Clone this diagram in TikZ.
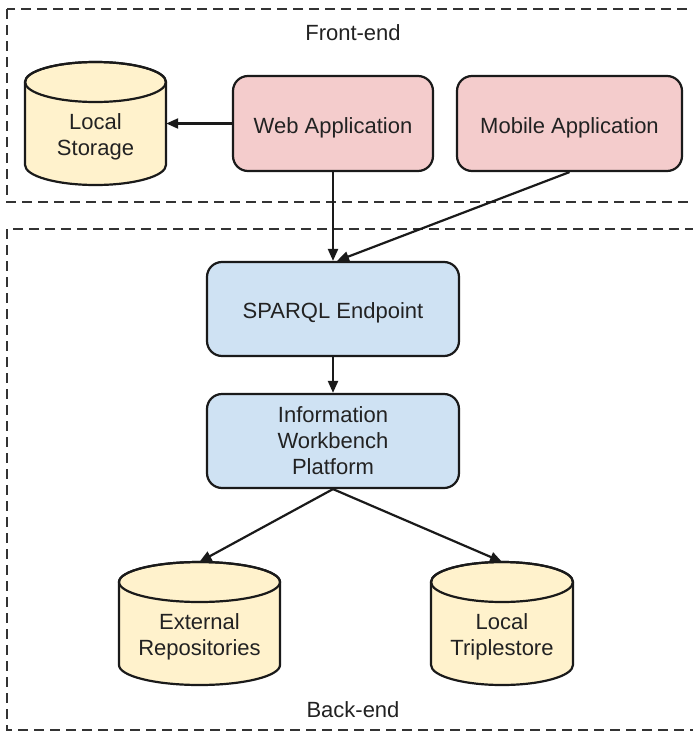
\documentclass[tikz,border=0pt]{standalone}
\usepackage{fontspec}
\setmainfont{Liberation Sans}
\usetikzlibrary{arrows.meta}
\definecolor{appfill}{HTML}{F4CCCC}
\definecolor{svcfill}{HTML}{CFE2F3}
\definecolor{dbfill}{HTML}{FFF2CC}
\definecolor{edgecol}{HTML}{1A1A1A}
\definecolor{zonecol}{HTML}{333333}
\definecolor{txtcol}{HTML}{222222}

% database cylinder: #1 name, #2 left, #3 top, #4 right, #5 bottom, #6 text
\newcommand\dbcyl[6]{%
  \pgfmathsetmacro\dbcx{(#2+#4)/2}%
  \pgfmathsetmacro\dbrx{(#4-#2)/2}%
  \pgfmathsetmacro\dbcy{-(#3+#5)/2}%
  \pgfmathsetmacro\dbw{#4-#2}%
  \pgfmathsetmacro\dbh{#5-#3}%
  \node[inner sep=0pt, minimum width=\dbw pt, minimum height=\dbh pt] (#1) at (\dbcx,\dbcy) {};
  \path[dbline] (#2,-#3-20) -- (#2,-#5+20)
    arc[start angle=180, end angle=360, x radius=\dbrx, y radius=20]
    -- (#4,-#3-20)
    arc[start angle=0, end angle=180, x radius=\dbrx, y radius=20] -- cycle;
  \draw[dbline, fill=none] (\dbcx,-#3-20) ellipse[x radius=\dbrx, y radius=20];
  \node[align=center] (#1-text) at (\dbcx,\dbcy-13) {#6};
}

\begin{document}
\begin{tikzpicture}[x=1pt, y=1pt,
  every node/.style={font=\fontsize{22}{26}\selectfont, text=txtcol},
  oneline/.style={text height=19.5pt, text depth=0pt},
  appbox/.style={draw=edgecol, line width=2.2pt, rounded corners=15pt, fill=appfill,
    minimum height=95pt, align=center, oneline},
  svcbox/.style={draw=edgecol, line width=2.2pt, rounded corners=15pt, fill=svcfill,
    minimum width=252pt, minimum height=94pt, align=center},
  dbline/.style={draw=edgecol, line width=2.2pt, fill=dbfill},
  zonebox/.style={draw=zonecol, line width=2.6pt, dash pattern=on 10pt off 6pt},
  link/.style={draw=edgecol, line width=2.2pt, -{Triangle[length=12pt, width=10pt]}},
]
\useasboundingbox (0,0) rectangle (693,-731);

% tiers
\draw[zonebox] (7,-9) rectangle (730,-202);
\draw[zonebox] (7,-229) rectangle (730,-730);
\node (front) at (353,-33) {Front-end};
\node (back) at (353,-710) {Back-end};

% front-end clients
\node[appbox, minimum width=200pt] (web) at (333,-123.5) {Web Application};
\node[appbox, minimum width=225pt] (mobile) at (569.5,-123.5) {Mobile Application};
\dbcyl{ls}{25}{62}{166}{185}{Local\\Storage}

% back-end services
\node[svcbox, oneline] (sparql) at (333,-309) {SPARQL Endpoint};
\node[svcbox] (iwp) at (333,-441) {Information\\Workbench\\Platform};
\dbcyl{ext}{119}{562}{280}{685}{External\\Repositories}
\dbcyl{tri}{431}{562}{573}{685}{Local\\Triplestore}

% connectors
\draw[link] (web.west) -- (ls.east);
\draw[link] (web.south) -- (sparql.north);
\draw[link] (mobile.south) -- ([xshift=4pt]sparql.north);
\draw[link] (sparql.south) -- (iwp.north);
\draw[link] (iwp.south) -- (ext.north);
\draw[link] (iwp.south) -- (tri.north);
\end{tikzpicture}
\end{document}
